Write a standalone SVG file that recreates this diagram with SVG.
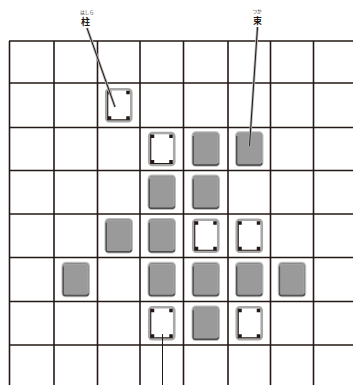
<svg xmlns="http://www.w3.org/2000/svg" xmlns:xlink="http://www.w3.org/1999/xlink" width="353" height="385" viewBox="0 0 353 385">
<style>
.grid line{stroke:#231815;stroke-width:1.6}
.lbl{font-family:"Noto Sans CJK JP","Noto Sans",sans-serif;fill:#231815;text-anchor:middle}
.ruby{font-size:4.5px}
.kanji{font-size:9px;font-weight:bold}
.halo{stroke:#b5b5b5;stroke-width:2.6;fill:none}
.lead{stroke:#231815;stroke-width:1;fill:none}
</style>
<defs>
<g id="gp">
<rect x="-13" y="-16.5" width="26" height="33" rx="3" fill="#9a9a9a" stroke="#bdbdbd" stroke-width="2.5"/>
<path d="M-12.5,-13 V14 Q-12.5,16 -10.5,16 H10.5 Q12.5,16 12.5,14" fill="none" stroke="#3a3a3a" stroke-width="1.3"/>
<rect x="-12.5" y="-16" width="25" height="32" rx="2.5" fill="none" stroke="#666" stroke-width="0.6"/>
</g>
<g id="wp">
<rect x="-12.5" y="-16" width="25" height="32" rx="3" fill="#fff" stroke="#a8a8a8" stroke-width="2.6"/>
<path d="M-11,-14.5 V14.5 H11" fill="none" stroke="#231815" stroke-width="1.1"/>
<rect x="-11" y="-14.5" width="3.5" height="3.5" fill="#231815"/>
<rect x="7.5" y="-14.5" width="3.5" height="3.5" fill="#231815"/>
<rect x="-11" y="11" width="3.5" height="3.5" fill="#231815"/>
<rect x="7.5" y="11" width="3.5" height="3.5" fill="#231815"/>
</g>
</defs>
<rect width="353" height="385" fill="#fff"/>
<g class="grid" id="grid">
<line x1="9.5" y1="41" x2="9.5" y2="385"/>
<line x1="54" y1="41" x2="54" y2="385"/>
<line x1="97.5" y1="41" x2="97.5" y2="385"/>
<line x1="140" y1="41" x2="140" y2="385"/>
<line x1="183.5" y1="41" x2="183.5" y2="385"/>
<line x1="228" y1="41" x2="228" y2="385"/>
<line x1="270.5" y1="41" x2="270.5" y2="385"/>
<line x1="313.5" y1="41" x2="313.5" y2="385"/>
<line x1="9" y1="41" x2="353" y2="41"/>
<line x1="9" y1="83" x2="353" y2="83"/>
<line x1="9" y1="127.5" x2="353" y2="127.5"/>
<line x1="9" y1="170.5" x2="353" y2="170.5"/>
<line x1="9" y1="214" x2="353" y2="214"/>
<line x1="9" y1="257.5" x2="353" y2="257.5"/>
<line x1="9" y1="301.5" x2="353" y2="301.5"/>
<line x1="9" y1="345" x2="353" y2="345"/>
</g>
<g id="p-r1c2"><use xlink:href="#wp" href="#wp" x="118.75" y="105.25"/></g>
<g id="p-r2c3"><use xlink:href="#wp" href="#wp" x="161.75" y="149"/></g>
<g id="p-r2c4"><use xlink:href="#gp" href="#gp" x="205.75" y="149"/></g>
<g id="p-r2c5"><use xlink:href="#gp" href="#gp" x="249.25" y="149"/></g>
<g id="p-r3c3"><use xlink:href="#gp" href="#gp" x="161.75" y="192.25"/></g>
<g id="p-r3c4"><use xlink:href="#gp" href="#gp" x="205.75" y="192.25"/></g>
<g id="p-r4c2"><use xlink:href="#gp" href="#gp" x="118.75" y="235.75"/></g>
<g id="p-r4c3"><use xlink:href="#gp" href="#gp" x="161.75" y="235.75"/></g>
<g id="p-r4c4"><use xlink:href="#wp" href="#wp" x="205.75" y="235.75"/></g>
<g id="p-r4c5"><use xlink:href="#wp" href="#wp" x="249.25" y="235.75"/></g>
<g id="p-r5c1"><use xlink:href="#gp" href="#gp" x="75.75" y="279.5"/></g>
<g id="p-r5c3"><use xlink:href="#gp" href="#gp" x="161.75" y="279.5"/></g>
<g id="p-r5c4"><use xlink:href="#gp" href="#gp" x="205.75" y="279.5"/></g>
<g id="p-r5c5"><use xlink:href="#gp" href="#gp" x="249.25" y="279.5"/></g>
<g id="p-r5c6"><use xlink:href="#gp" href="#gp" x="292" y="279.5"/></g>
<g id="p-r6c3"><use xlink:href="#wp" href="#wp" x="161.75" y="323.25"/></g>
<g id="p-r6c4"><use xlink:href="#gp" href="#gp" x="205.75" y="323.25"/></g>
<g id="p-r6c5"><use xlink:href="#wp" href="#wp" x="249.25" y="323.25"/></g>
<g id="connectors">
<path class="halo" d="M87,28 L115,107"/>
<path class="lead" d="M87,28 L115,107"/>
<path class="halo" d="M257.5,27 L249.5,146"/>
<path class="lead" d="M257.5,27 L249.5,146"/>
<path class="lead" d="M162.5,334 V385" stroke-width="1.3"/>
</g>
<g id="label-left">
<text class="lbl ruby" x="87" y="14">はしら</text>
<text class="lbl kanji" x="85.5" y="25">柱</text>
</g>
<g id="label-right">
<text class="lbl ruby" x="257" y="12.5">つか</text>
<text class="lbl kanji" x="257.5" y="24">束</text>
</g>
</svg>
